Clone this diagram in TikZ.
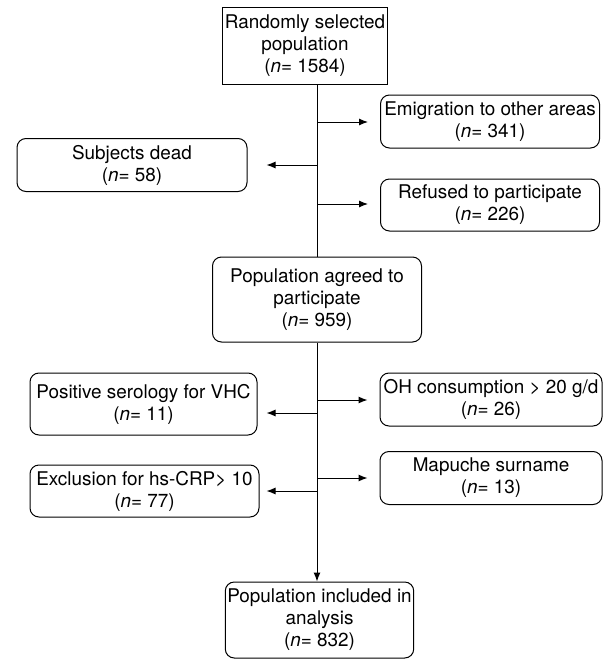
\documentclass[tikz,border=0pt]{standalone}
\usepackage{fontspec}
\setmainfont{TeX Gyre Heros}
\usetikzlibrary{arrows.meta}
\tikzset{
  box/.style={draw, line width=1pt, align=center, inner sep=2pt,
    font=\fontsize{18.9}{22}\selectfont},
  rbox/.style={box, rounded corners=9pt},
  arr/.style={-{Latex[length=9pt,width=7pt]}, line width=1pt}
}
\newcommand{\nn}[1]{(\textit{n}= #1)}

\begin{document}
\begin{tikzpicture}[x=1pt,y=-1pt]
\useasboundingbox (0,0) rectangle (604,661);
% boxes
\node[box, minimum width=160, minimum height=77] (top) at (305,46) {Randomly selected\\population\\\nn{1584}};
\node[rbox, minimum width=219, minimum height=53] (emig) at (490,121.5) {Emigration to other areas\\\nn{341}};
\node[rbox, minimum width=230, minimum height=53] (dead) at (132,165) {Subjects dead\\\nn{58}};
\node[rbox, minimum width=219, minimum height=52] (refused) at (490,205) {Refused to participate\\\nn{226}};
\node[rbox, minimum width=209, minimum height=85] (agreed) at (317,299.5) {Population agreed to\\participate\\\nn{959}};
\node[rbox, minimum width=227, minimum height=62] (sero) at (143.5,404) {Positive serology for VHC\\\nn{11}};
\node[rbox, minimum width=229, minimum height=52] (crp) at (144.5,491) {Exclusion for hs-CRP> 10\\\nn{77}};
\node[rbox, minimum width=222, minimum height=53] (oh) at (491,399.5) {OH consumption > 20 g/d\\\nn{26}};
\node[rbox, minimum width=222, minimum height=53] (mapuche) at (491,478) {Mapuche surname\\\nn{13}};
\node[rbox, minimum width=187, minimum height=76] (final) at (319.5,620) {Population included in\\analysis\\\nn{832}};
% branch points on the main line
\coordinate (j1) at (317,122);
\coordinate (j2) at (317,165);
\coordinate (j3) at (317,204);
\coordinate (j4) at (317,400);
\coordinate (j5) at (317,413);
\coordinate (j6) at (317,478);
\coordinate (j7) at (317,491);
% main line
\draw[line width=1pt] (top.south -| agreed.north) -- (agreed.north);
\draw[arr] (agreed.south) -- (agreed.south |- final.north);
% side arrows
\draw[arr, shorten >=12pt] (j1) -- (j1 -| emig.west);
\draw[arr, shorten >=19pt] (j2) -- (j2 -| dead.east);
\draw[arr, shorten >=12pt] (j3) -- (j3 -| refused.west);
\draw[arr, shorten >=12pt] (j4) -- (j4 -| oh.west);
\draw[arr, shorten >=9pt] (j5) -- (j5 -| sero.east);
\draw[arr, shorten >=12pt] (j6) -- (j6 -| mapuche.west);
\draw[arr, shorten >=7pt] (j7) -- (j7 -| crp.east);
\end{tikzpicture}
\end{document}
